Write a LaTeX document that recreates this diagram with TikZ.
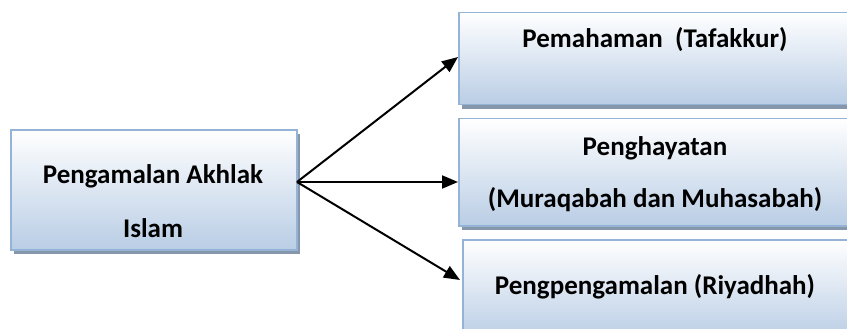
\documentclass[tikz,border=0pt]{standalone}
\usepackage{fontspec}
\setmainfont{Carlito}
\usetikzlibrary{arrows.meta,shadows}
\definecolor{boxedge}{HTML}{95B3D7}
\definecolor{boxbot}{HTML}{B9CDE5}
\definecolor{shadowc}{HTML}{8797AB}
\tikzset{
  box/.style={draw=boxedge, line width=1.5pt, top color=white, bottom color=boxbot,
    minimum width=#1, inner sep=0pt, anchor=north west,
    drop shadow={shadow xshift=3pt, shadow yshift=-4pt, fill=shadowc, opacity=1}},
  lbl/.style={font=\bfseries\fontsize{27}{31}\selectfont, anchor=base, inner sep=0pt},
  arr/.style={line width=2pt, -{Triangle[length=16pt,width=13pt]}}
}
\begin{document}
\begin{tikzpicture}[x=1pt,y=-1pt]
\useasboundingbox (0,0) rectangle (847,329);
\clip (0,0) rectangle (847,329);
\node[box=286pt, minimum height=120pt] (L) at (10,129) {};
\node[box=394pt, minimum height=92pt] (T) at (458,12) {};
\node[box=394pt, minimum height=107pt] (M) at (458,118) {};
\node[box=390pt, minimum height=100pt] (B) at (462,239) {};
\node[lbl] (l1) at (153,183) {Pengamalan Akhlak};
\node[lbl] (l2) at (153,237) {Islam};
\node[lbl] (t1) at (655,48) {Pemahaman\ \ (Tafakkur)};
\node[lbl] (m1) at (655,155) {Penghayatan};
\node[lbl] (m2) at (655,207) {(Muraqabah dan Muhasabah)};
\node[lbl] (b1) at (655,294) {Pengpengamalan (Riyadhah)};
\coordinate (o) at (297,182);
\coordinate (ta) at (458,57);
\coordinate (ma) at (458,182);
\coordinate (ba) at (460,280);
\draw[arr] (o) -- (ta);
\draw[arr] (o) -- (ma);
\draw[arr] (o) -- (ba);
\end{tikzpicture}
\end{document}
